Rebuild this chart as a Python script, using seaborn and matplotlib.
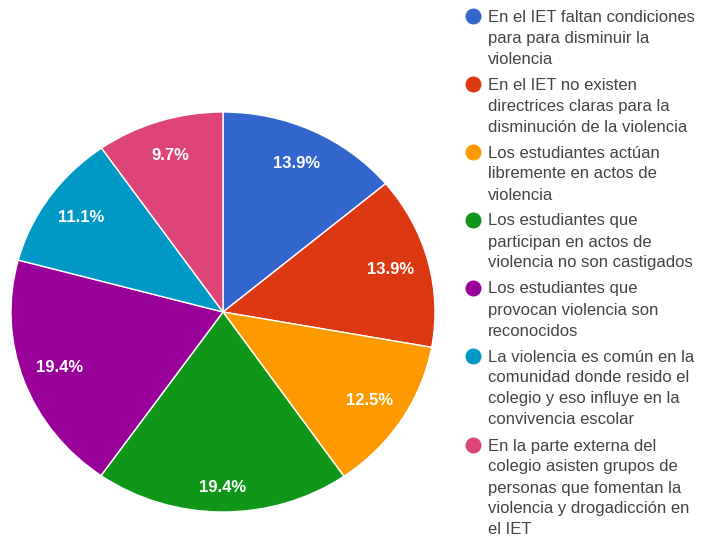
"""
Pie chart: factores asociados a la violencia en el IET.
"""

import numpy as np
import matplotlib.pyplot as plt
from matplotlib.lines import Line2D
import seaborn as sns

# ── Data ─────────────────────────────────────────────────────────────────────
categories = [
    "En el IET faltan condiciones\npara para disminuir la\nviolencia",
    "En el IET no existen\ndirectrices claras para la\ndisminución de la violencia",
    "Los estudiantes actúan\nlibremente en actos de\nviolencia",
    "Los estudiantes que\nparticipan en actos de\nviolencia no son castigados",
    "Los estudiantes que\nprovocan violencia son\nreconocidos",
    "La violencia es común en la\ncomunidad donde resido el\ncolegio y eso influye en la\nconvivencia escolar",
    "En la parte externa del\ncolegio asisten grupos de\npersonas que fomentan la\nviolencia y drogadicción en\nel IET",
]
percentages = [13.9, 13.9, 12.5, 19.4, 19.4, 11.1, 9.7]

# ── Style ────────────────────────────────────────────────────────────────────
COLORS = ["#3366CC", "#DC3912", "#FF9900", "#109618",
          "#990099", "#0099C6", "#DD4477"]
TEXT_COLOR = "#444444"
LABEL_RADIUS = [0.82, 0.82, 0.82, 0.88, 0.82, 0.82, 0.82]
W, H = 702, 540

sns.set_theme(style="white")
plt.rcParams["font.family"] = ["Liberation Sans", "DejaVu Sans"]
palette = sns.color_palette(COLORS)

fig = plt.figure(figsize=(W / 100, H / 100), dpi=100)
fig.patch.set_facecolor("white")

# pie is slightly stretched in the reference: center (223, 312), rx 212, ry 200
cx, cy, rx, ry = 223, 312, 212, 200
ax = fig.add_axes([(cx - rx) / W, (H - cy - ry) / H, 2 * rx / W, 2 * ry / H])
wedges, _, autotexts = ax.pie(
    percentages,
    colors=palette,
    startangle=90,
    counterclock=False,
    radius=1.0,
    autopct="%.1f%%",
    pctdistance=0.82,
    wedgeprops={"edgecolor": "white", "linewidth": 1.0},
    textprops={"color": "white", "fontsize": 12, "fontweight": "bold"},
)
# push each percentage label to its own radius along the wedge bisector
for w, t, rad in zip(wedges, autotexts, LABEL_RADIUS):
    mid = np.deg2rad((w.theta1 + w.theta2) / 2)
    t.set_position((rad * np.cos(mid), rad * np.sin(mid)))

ax.set_xlim(-1.0, 1.0)
ax.set_ylim(-1.0, 1.0)
ax.set_aspect("auto")
ax.axis("off")

# ── Legend (first line aligned with the marker) ─────────────────────────────
line_h, gap = 21, 5
y = 16
for color, label in zip(palette, categories):
    lines = label.split("\n")
    fig.add_artist(Line2D([473 / W], [1 - y / H], marker="o", markersize=10.5,
                          color=color, transform=fig.transFigure))
    for i, line in enumerate(lines):
        base = y + 5.5 + i * line_h
        fig.text(488 / W, 1 - base / H, line, color=TEXT_COLOR,
                 fontsize=12, va="baseline", ha="left")
    y += len(lines) * line_h + gap

fig.savefig("out.png", dpi=100, facecolor="white")
